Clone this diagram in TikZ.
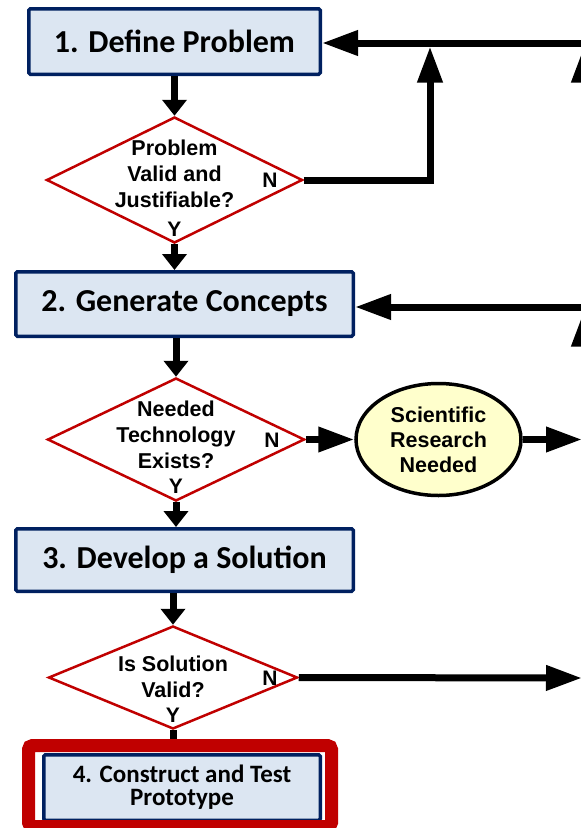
\documentclass[tikz,border=0pt]{standalone}
\usepackage{fontspec}
\setmainfont{Liberation Sans}
\newfontfamily\calibfont{Carlito}
\usetikzlibrary{shapes.geometric,arrows.meta}

\definecolor{boxblue}{HTML}{DCE6F2}
\definecolor{navy}{HTML}{002060}
\definecolor{darkred}{HTML}{C00000}
\definecolor{paleyellow}{HTML}{FFFFCC}

\begin{document}
\begin{tikzpicture}[x=1pt,y=-1pt]
\tikzstyle{every node}+=[inner sep=0pt]
\tikzstyle{stepbox}=[draw=navy, line width=3.5pt, fill=boxblue, rounded corners=1.5pt, align=center, font=\calibfont\bfseries\fontsize{32}{36}\selectfont]
\tikzstyle{decision}=[diamond, draw=darkred, line width=2.5pt, fill=white]
\tikzstyle{asktext}=[align=center, font=\bfseries\fontsize{21.5}{26}\selectfont]
\tikzstyle{research}=[ellipse, draw=black, line width=3.5pt, fill=paleyellow, align=center, font=\bfseries\fontsize{21.5}{25}\selectfont]
\tikzstyle{yn}=[font=\bfseries\fontsize{21}{21}\selectfont]
\tikzstyle{flow}=[line width=7pt, -{Triangle[length=36pt,width=24pt]}]
\tikzstyle{downarrow}=[line width=7pt, -{Triangle[length=16pt,width=24pt]}]

\useasboundingbox (0,0) rectangle (581,828);
\clip (0,0) rectangle (581,828);

\node[stepbox, minimum width=291.5pt, minimum height=65.5pt] (define) at (174.5,41.5) {1. Define Problem};
\node[decision, minimum width=256pt, minimum height=126pt] (q1) at (174.5,180) {};
\node[asktext] (q1txt) at (174.5,174) {Problem\\Valid and\\Justifiable?};
\node[yn] (q1n) at (270,180) {N};
\node[yn] (q1y) at (174.5,229) {Y};

\node[stepbox, minimum width=337.5pt, minimum height=64.5pt] (concepts) at (184.5,304) {2. Generate Concepts};
\node[decision, minimum width=257pt, minimum height=123pt] (q2) at (176,439.5) {};
\node[asktext] (q2txt) at (176,435) {Needed\\Technology\\Exists?};
\node[yn] (q2n) at (272,440) {N};
\node[yn] (q2y) at (176,486) {Y};
\node[research, minimum width=165pt, minimum height=112pt] (sci) at (438.5,439.5) {Scientific\\Research\\Needed};

\node[stepbox, minimum width=337.5pt, minimum height=62.5pt] (develop) at (184.5,560) {3. Develop a Solution};
\node[decision, minimum width=249pt, minimum height=103pt] (q3) at (173,677.5) {};
\node[asktext] (q3txt) at (173,677) {Is Solution\\Valid?};
\node[yn] (q3n) at (270,678) {N};
\node[yn] (q3y) at (173,715) {Y};

\node[stepbox, minimum width=276.5pt, minimum height=65.5pt, font=\calibfont\bfseries\fontsize{25}{23}\selectfont] (build) at (182,787.5) {4. Construct and Test\\Prototype};
\node[draw=darkred, line width=13pt, rounded corners=4pt, minimum width=303pt, minimum height=81pt] (frame) at (180,786) {};

\coordinate (r1) at (584,43);
\coordinate (r2) at (584,307);
\coordinate (r3) at (584,860);
\coordinate (top1) at (430,43);
\coordinate (rs) at (582,439.5);
\coordinate (rv) at (582,678);

\draw[flow] (r1) -- (r1 -| define.east);
\draw[flow, shorten >=3.5pt] (q1.east) -| (top1);
\draw[flow, shorten >=3.5pt] (r2) -- (r1);
\draw[flow, shorten >=3.5pt] (r3) -- (r2);
\draw[flow] (r2) -- (r2 -| concepts.east);

\draw[downarrow] (define.south -| q1.north) -- (q1.north);
\draw[downarrow] (q1.south) -- (q1.south |- concepts.north);
\draw[downarrow] (concepts.south -| q2.north) -- (q2.north);
\draw[flow] (q2.east) -- (sci.west);
\draw[flow] (sci.east) -- (rs);
\draw[downarrow] (q2.south) -- (q2.south |- develop.north);
\draw[downarrow] (develop.south -| q3.north) -- (q3.north);
\draw[flow] (q3.east) -- (rv);
\draw[line width=7pt] (q3.south) -- (q3.south |- frame.north);

\end{tikzpicture}
\end{document}
